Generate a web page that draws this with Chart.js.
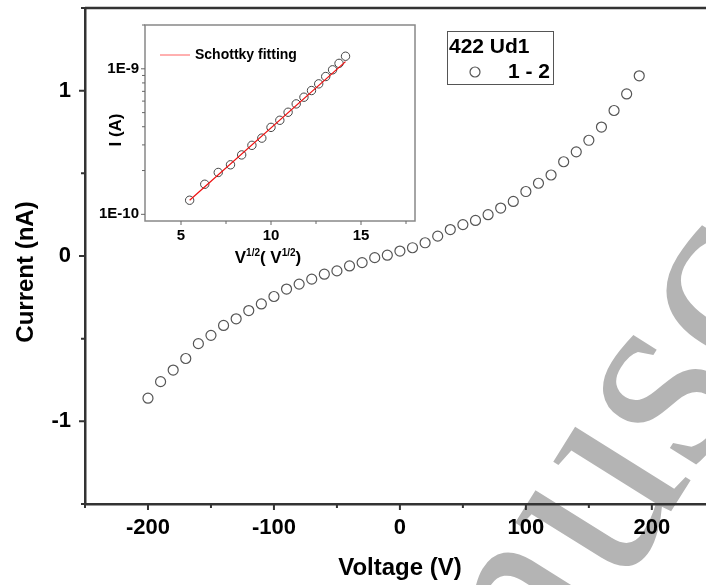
<!DOCTYPE html>
<html>
<head>
<meta charset="utf-8">
<script src="https://cdn.jsdelivr.net/npm/chart.js@4"></script>
<style>
  html, body { margin: 0; padding: 0; background: #fff; overflow: hidden; }
  #wrap { position: relative; width: 706px; height: 585px; }
  #main { position: absolute; left: 0; top: 0; }
  #inset { position: absolute; left: 95px; top: 15px; }
</style>
</head>
<body>
<div id="wrap">
  <canvas id="main" width="706" height="585"></canvas>
  <canvas id="inset" width="330" height="260"></canvas>
</div>
<script>
// main I-V sweep (V, nA)
var voltage = [-200, -190, -180, -170, -160, -150, -140, -130, -120, -110,
               -100, -90, -80, -70, -60, -50, -40, -30, -20, -10,
               0, 10, 20, 30, 40, 50, 60, 70, 80, 90,
               100, 110, 120, 130, 140, 150, 160, 170, 180, 190];
var current = [-0.86, -0.76, -0.69, -0.62, -0.53, -0.48, -0.42, -0.38, -0.33, -0.29,
               -0.245, -0.20, -0.17, -0.14, -0.11, -0.09, -0.06, -0.04, -0.01, 0.005,
               0.03, 0.05, 0.08, 0.12, 0.16, 0.19, 0.215, 0.25, 0.29, 0.33,
               0.39, 0.44, 0.49, 0.57, 0.63, 0.70, 0.78, 0.88, 0.98, 1.09];
var xTicks = [-200, -100, 0, 100, 200];
var xMinor = [-250, -150, -50, 50, 150];
var yTicks = [-1, 0, 1];
var yMinor = [-1.5, -0.5, 0.5, 1.5];

// inset: Schottky plot, I vs sqrt(V)
var sqrtV = [5.48, 6.32, 7.07, 7.75, 8.37, 8.94, 9.49, 10.0, 10.49,
             10.95, 11.40, 11.83, 12.25, 12.65, 13.04, 13.42, 13.78, 14.14];
var insetCurrent = [1.25e-10, 1.61e-10, 1.94e-10, 2.19e-10, 2.56e-10, 2.98e-10, 3.34e-10, 3.96e-10, 4.43e-10,
                    5.03e-10, 5.74e-10, 6.38e-10, 7.09e-10, 7.88e-10, 8.85e-10, 9.84e-10, 1.09e-9, 1.22e-9];
var fitX = [5.48, 14.14];
var fitY = [1.25e-10, 1.12e-9];
var insetXTicks = [5, 10, 15];
var insetXMinor = [7.5, 12.5, 17.5];
var insetYTicks = [1e-10, 1e-9];
var insetYMinor = [2e-10, 3e-10, 4e-10, 5e-10, 6e-10, 7e-10, 8e-10, 9e-10, 2e-9];

var FONT = '"Liberation Sans", Arial, sans-serif';
Chart.defaults.font.family = FONT;
Chart.defaults.color = '#000';

function pts(xs, ys) {
  return xs.map(function(x, i) { return { x: x, y: ys[i] }; });
}

// stop the scales from adding room for overhanging labels
function noPad(s) {
  s.paddingTop = 0; s.paddingBottom = 0; s.paddingLeft = 0; s.paddingRight = 0;
}

// tick marks, major + minor, drawn outward
function tickMarks(chart, o) {
  var ctx = chart.ctx, a = chart.chartArea;
  var sx = chart.scales.x, sy = chart.scales.y;
  ctx.save();
  ctx.strokeStyle = o.color;
  ctx.lineWidth = o.width;
  ctx.beginPath();
  o.xMajor.forEach(function(v) { var p = sx.getPixelForValue(v); ctx.moveTo(p, a.bottom); ctx.lineTo(p, a.bottom + o.major); });
  o.xMinor.forEach(function(v) { var p = sx.getPixelForValue(v); ctx.moveTo(p, a.bottom); ctx.lineTo(p, a.bottom + o.minor); });
  o.yMajor.forEach(function(v) { var p = sy.getPixelForValue(v); ctx.moveTo(a.left, p); ctx.lineTo(a.left - o.major, p); });
  o.yMinor.forEach(function(v) { var p = sy.getPixelForValue(v); ctx.moveTo(a.left, p); ctx.lineTo(a.left - o.minor, p); });
  ctx.stroke();
  ctx.restore();
}

var watermark = {
  id: 'watermark',
  beforeDraw: function(chart) {
    var c = chart.ctx, size = 275;
    c.save();
    c.fillStyle = '#b4b4b4';
    c.font = size + 'px "Liberation Serif", serif';
    var pre = c.measureText('Manu').width, sw = c.measureText('s').width;
    c.translate(669, 398);
    c.rotate(-58 * Math.PI / 180);
    c.fillText('Manuscript', -pre - sw / 2, 0.45 * size / 2);
    c.restore();
  }
};

var mainDecor = {
  id: 'mainDecor',
  afterDraw: function(chart) {
    var c = chart.ctx, a = chart.chartArea;
    tickMarks(chart, { color: '#333', width: 2, major: 6, minor: 4,
      xMajor: xTicks, xMinor: xMinor, yMajor: yTicks, yMinor: yMinor });
    c.save();
    c.strokeStyle = '#333';
    c.lineWidth = 2.5;
    c.beginPath();
    c.moveTo(a.left, a.top);
    c.lineTo(a.right, a.top);
    c.stroke();

    // axis titles
    c.fillStyle = '#000';
    c.font = 'bold 24px ' + FONT;
    c.textAlign = 'center';
    c.textBaseline = 'middle';
    c.fillText('Voltage (V)', 400, 568);
    c.save();
    c.translate(26, 272);
    c.rotate(-Math.PI / 2);
    c.fillText('Current (nA)', 0, 0);
    c.restore();

    // legend
    c.strokeStyle = '#555';
    c.lineWidth = 1;
    c.strokeRect(447.5, 31.5, 106, 53);
    c.textAlign = 'left';
    c.font = 'bold 21px ' + FONT;
    c.fillText('422 Ud1', 449, 47);
    c.fillText('1 - 2', 508, 72);
    c.lineWidth = 1.2;
    c.beginPath();
    c.arc(475, 72, 5, 0, Math.PI * 2);
    c.stroke();
    c.restore();
  }
};

new Chart(document.getElementById('main'), {
  type: 'scatter',
  data: {
    datasets: [{
      data: pts(voltage, current),
      pointStyle: 'circle',
      pointRadius: 5,
      pointBorderWidth: 1.2,
      pointBorderColor: '#555',
      pointBackgroundColor: 'rgba(0,0,0,0)'
    }]
  },
  options: {
    responsive: false,
    animation: false,
    devicePixelRatio: 1,
    layout: { autoPadding: false, padding: { top: 8, left: 0, right: 0, bottom: 0 } },
    plugins: { legend: { display: false }, tooltip: { enabled: false } },
    scales: {
      x: {
        type: 'linear', min: -250, max: 243,
        afterBuildTicks: function(s) { s.ticks = xTicks.map(function(v) { return { value: v }; }); },
        afterFit: function(s) { s.height = 81; noPad(s); },
        grid: { display: false, drawTicks: false },
        border: { color: '#333', width: 2.5 },
        ticks: { font: { size: 22, weight: 'bold' }, padding: 11, maxRotation: 0 }
      },
      y: {
        type: 'linear', min: -1.5, max: 1.5,
        afterBuildTicks: function(s) { s.ticks = yTicks.map(function(v) { return { value: v }; }); },
        afterFit: function(s) { s.width = 85; noPad(s); },
        grid: { display: false, drawTicks: false },
        border: { color: '#333', width: 2.5 },
        ticks: { font: { size: 22, weight: 'bold' }, padding: 14 }
      }
    }
  },
  plugins: [watermark, mainDecor]
});

var insetDecor = {
  id: 'insetDecor',
  afterDraw: function(chart) {
    var c = chart.ctx, a = chart.chartArea;
    c.save();
    c.strokeStyle = '#888';
    c.lineWidth = 1.5;
    c.strokeRect(a.left, a.top, a.right - a.left, a.bottom - a.top);
    c.restore();
    tickMarks(chart, { color: '#666', width: 1, major: 4, minor: 3,
      xMajor: insetXTicks, xMinor: insetXMinor, yMajor: insetYTicks, yMinor: insetYMinor });

    c.save();
    // legend
    c.strokeStyle = '#ff6060';
    c.lineWidth = 1;
    c.beginPath();
    c.moveTo(65, 40);
    c.lineTo(95, 40);
    c.stroke();
    c.fillStyle = '#000';
    c.font = 'bold 14px ' + FONT;
    c.textBaseline = 'middle';
    c.fillText('Schottky fitting', 100, 40);

    // y title
    c.save();
    c.translate(21, 115);
    c.rotate(-Math.PI / 2);
    c.textAlign = 'center';
    c.font = 'bold 17px ' + FONT;
    c.fillText('I (A)', 0, 0);
    c.restore();

    // x title with superscripts
    var parts = [['V', 17, 0], ['1/2', 10, -7], ['( V', 17, 0], ['1/2', 10, -7], [')', 17, 0]];
    var total = 0;
    parts.forEach(function(p) { c.font = 'bold ' + p[1] + 'px ' + FONT; p.w = c.measureText(p[0]).width; total += p.w; });
    var x = 173 - total / 2;
    c.textAlign = 'left';
    c.textBaseline = 'alphabetic';
    parts.forEach(function(p) {
      c.font = 'bold ' + p[1] + 'px ' + FONT;
      c.fillText(p[0], x, 248 + p[2]);
      x += p.w;
    });
    c.restore();
  }
};

new Chart(document.getElementById('inset'), {
  type: 'scatter',
  data: {
    datasets: [{
      data: pts(fitX, fitY),
      showLine: true,
      borderColor: '#ee1111',
      borderWidth: 1.2,
      pointRadius: 0
    }, {
      data: pts(sqrtV, insetCurrent),
      pointStyle: 'circle',
      pointRadius: 4.2,
      pointBorderWidth: 1,
      pointBorderColor: '#444',
      pointBackgroundColor: 'rgba(0,0,0,0)'
    }]
  },
  options: {
    responsive: false,
    animation: false,
    devicePixelRatio: 1,
    layout: { autoPadding: false, padding: { top: 10, left: 0, right: 10, bottom: 0 } },
    plugins: { legend: { display: false }, tooltip: { enabled: false } },
    scales: {
      x: {
        type: 'linear', min: 3, max: 18,
        afterBuildTicks: function(s) { s.ticks = insetXTicks.map(function(v) { return { value: v }; }); },
        afterFit: function(s) { s.height = 54; noPad(s); },
        grid: { display: false, drawTicks: false },
        border: { display: false },
        ticks: { font: { size: 15, weight: 'bold' }, padding: 6, maxRotation: 0 }
      },
      y: {
        type: 'logarithmic', min: 9e-11, max: 2e-9,
        afterBuildTicks: function(s) { s.ticks = insetYTicks.map(function(v) { return { value: v }; }); },
        afterFit: function(s) { s.width = 50; noPad(s); },
        grid: { display: false, drawTicks: false },
        border: { display: false },
        ticks: {
          font: { size: 15, weight: 'bold' }, padding: 6,
          callback: function(v) { return '1E' + Math.round(Math.log10(v)); }
        }
      }
    }
  },
  plugins: [insetDecor]
});
</script>
</body>
</html>
